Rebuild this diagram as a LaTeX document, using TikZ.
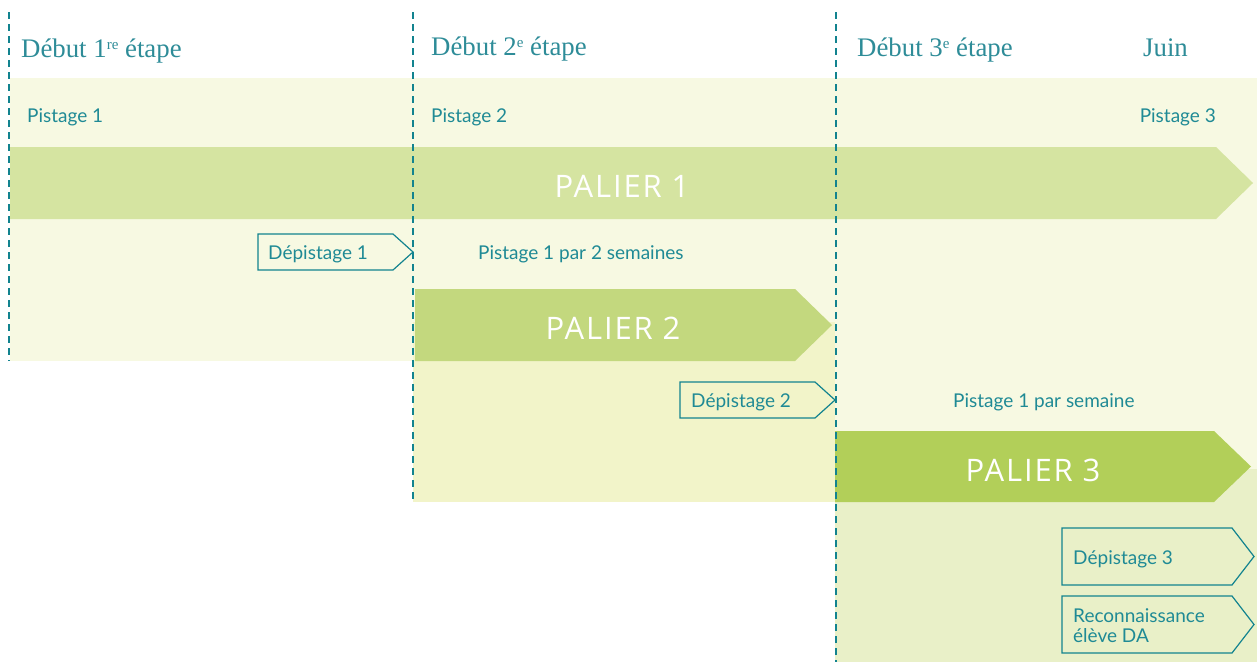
\documentclass[tikz,border=0pt]{standalone}
\usepackage{fontspec}
\setmainfont{Liberation Serif}
\newfontfamily\labelfont{Lato}
\newfontfamily\palfont[LetterSpace=6]{Open Sans}
\definecolor{headteal}{HTML}{2E8C98}
\definecolor{txtteal}{HTML}{1F8A95}
\definecolor{dashteal}{HTML}{12838F}
\definecolor{bandA}{HTML}{F7F9E2}
\definecolor{bandB}{HTML}{F2F4C9}
\definecolor{bandC}{HTML}{E9F0C8}
\definecolor{palA}{HTML}{D5E4A1}
\definecolor{palB}{HTML}{C3D87E}
\definecolor{palC}{HTML}{B2CF59}
\newcommand{\supx}[1]{\raisebox{7.5pt}{\fontsize{15}{15}\selectfont #1}}
\tikzset{
  dashline/.style={draw=dashteal, line width=2.4pt, dash pattern=on 7pt off 5pt},
  boxline/.style={draw=dashteal, line width=1.2pt, line join=miter},
  heading/.style={anchor=base west, inner sep=0pt, text=headteal, font=\fontsize{26.8}{30}\selectfont},
  lbl/.style={anchor=base west, inner sep=0pt, text=txtteal, font=\labelfont\fontsize{19}{22}\selectfont},
  pal/.style={anchor=base west, inner sep=0pt, text=white, font=\palfont\fontsize{31}{36}\selectfont}
}
\begin{document}
\begin{tikzpicture}[x=1pt,y=-1pt]
\useasboundingbox (0,0) rectangle (1257,662);
% background bands
\fill[bandA] (10,78) rectangle (1257,361);
\fill[bandA] (835,322) rectangle (1257,472);
\fill[bandB] (413,322) rectangle (835,502);
\fill[bandC] (835,469) rectangle (1257,662);
% paliers
\fill[palA] (10,147) -- (1216,147) -- (1253,183) -- (1216,219) -- (10,219) -- cycle;
\fill[palB] (415,289) -- (795,289) -- (832,325) -- (795,361) -- (415,361) -- cycle;
\fill[palC] (835,431) -- (1214,431) -- (1251,466.5) -- (1214,502) -- (835,502) -- cycle;
% depistage boxes
\draw[boxline] (258,234) -- (393,234) -- (413,252) -- (393,270) -- (258,270) -- cycle;
\draw[boxline] (680,382) -- (815,382) -- (835,400) -- (815,418) -- (680,418) -- cycle;
\draw[boxline] (1062,528) -- (1232,528) -- (1254,556.5) -- (1232,585) -- (1062,585) -- cycle;
\draw[boxline] (1062,596) -- (1232,596) -- (1254,624.5) -- (1232,653) -- (1062,653) -- cycle;
% dashed lines
\draw[dashline] (9,12) -- (9,361);
\draw[dashline] (413,12) -- (413,502);
\draw[dashline] (836,12) -- (836,662);
% headings
\node[heading] (h1) at (21,57) {Début 1\supx{re} étape};
\node[heading] (h2) at (431,55) {Début 2\supx{e} étape};
\node[heading] (h3) at (857,56) {Début 3\supx{e} étape};
\node[heading] (h4) at (1143,56) {Juin};
% labels
\node[lbl] (p1) at (27,122) {Pistage 1};
\node[lbl] (p2) at (431,122) {Pistage 2};
\node[lbl, anchor=base east] (p3) at (1216,122) {Pistage 3};
\node[lbl] (d1) at (268,259) {Dépistage 1};
\node[lbl] (f1) at (478,259) {Pistage 1 par 2 semaines};
\node[lbl] (d2) at (691,407) {Dépistage 2};
\node[lbl] (f2) at (953,407) {Pistage 1 par semaine};
\node[lbl] (d3) at (1073,564) {Dépistage 3};
\node[lbl, align=left, anchor=north west, font=\labelfont\fontsize{19}{20.5}\selectfont] (r1) at (1073,608) {Reconnaissance\\élève DA};
% palier labels
\node[pal, anchor=base] (t1) at (622,197) {PALIER 1};
\node[pal, anchor=base] (t2) at (613,339) {PALIER 2};
\node[pal, anchor=base] (t3) at (1033,481) {PALIER 3};
\end{tikzpicture}
\end{document}
